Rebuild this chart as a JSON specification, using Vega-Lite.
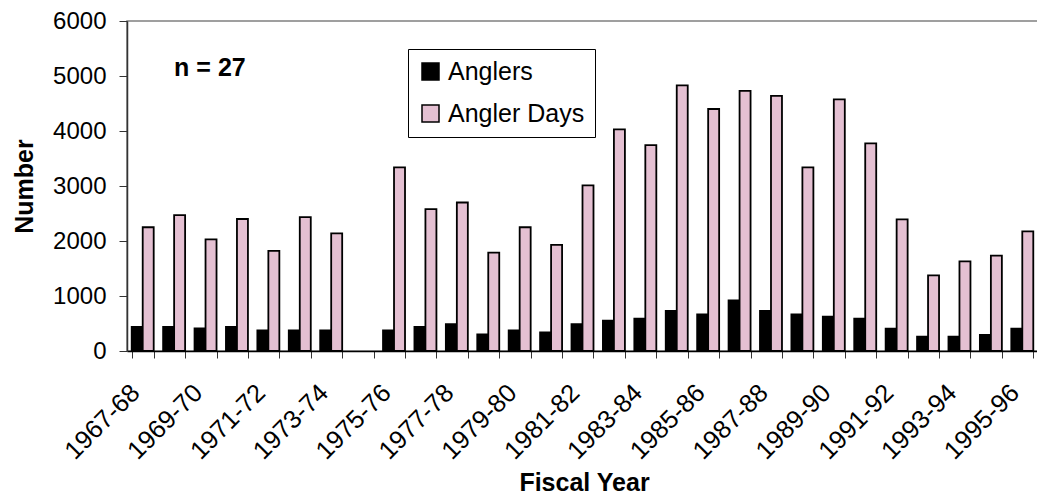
{
  "$schema": "https://vega.github.io/schema/vega-lite/v6.json",
  "autosize": "none",
  "width": 911,
  "height": 330,
  "padding": {"left": 127, "top": 21, "right": 0, "bottom": 144},
  "config": {
    "font": "Liberation Sans",
    "view": {"stroke": "#808080", "strokeWidth": 1.5},
    "background": "white"
  },
  "datasets": {
    "bars": [
      {"year": "1967-68", "series": "Anglers", "value": 440},
      {"year": "1967-68", "series": "Angler Days", "value": 2250},
      {"year": "1968-69", "series": "Anglers", "value": 440},
      {"year": "1968-69", "series": "Angler Days", "value": 2470},
      {"year": "1969-70", "series": "Anglers", "value": 410},
      {"year": "1969-70", "series": "Angler Days", "value": 2030},
      {"year": "1970-71", "series": "Anglers", "value": 440},
      {"year": "1970-71", "series": "Angler Days", "value": 2400},
      {"year": "1971-72", "series": "Anglers", "value": 375},
      {"year": "1971-72", "series": "Angler Days", "value": 1820},
      {"year": "1972-73", "series": "Anglers", "value": 375},
      {"year": "1972-73", "series": "Angler Days", "value": 2435},
      {"year": "1973-74", "series": "Anglers", "value": 375},
      {"year": "1973-74", "series": "Angler Days", "value": 2140},
      {"year": "1975-76", "series": "Anglers", "value": 375},
      {"year": "1975-76", "series": "Angler Days", "value": 3340},
      {"year": "1976-77", "series": "Anglers", "value": 440},
      {"year": "1976-77", "series": "Angler Days", "value": 2580},
      {"year": "1977-78", "series": "Anglers", "value": 490},
      {"year": "1977-78", "series": "Angler Days", "value": 2700},
      {"year": "1978-79", "series": "Anglers", "value": 300},
      {"year": "1978-79", "series": "Angler Days", "value": 1790},
      {"year": "1979-80", "series": "Anglers", "value": 375},
      {"year": "1979-80", "series": "Angler Days", "value": 2250},
      {"year": "1980-81", "series": "Anglers", "value": 340},
      {"year": "1980-81", "series": "Angler Days", "value": 1930},
      {"year": "1981-82", "series": "Anglers", "value": 490},
      {"year": "1981-82", "series": "Angler Days", "value": 3010},
      {"year": "1982-83", "series": "Anglers", "value": 550},
      {"year": "1982-83", "series": "Angler Days", "value": 4030},
      {"year": "1983-84", "series": "Anglers", "value": 590},
      {"year": "1983-84", "series": "Angler Days", "value": 3745},
      {"year": "1984-85", "series": "Anglers", "value": 730},
      {"year": "1984-85", "series": "Angler Days", "value": 4830},
      {"year": "1985-86", "series": "Anglers", "value": 665},
      {"year": "1985-86", "series": "Angler Days", "value": 4400},
      {"year": "1986-87", "series": "Anglers", "value": 920},
      {"year": "1986-87", "series": "Angler Days", "value": 4730},
      {"year": "1987-88", "series": "Anglers", "value": 730},
      {"year": "1987-88", "series": "Angler Days", "value": 4640},
      {"year": "1988-89", "series": "Anglers", "value": 665},
      {"year": "1988-89", "series": "Angler Days", "value": 3340},
      {"year": "1989-90", "series": "Anglers", "value": 625},
      {"year": "1989-90", "series": "Angler Days", "value": 4575},
      {"year": "1990-91", "series": "Anglers", "value": 590},
      {"year": "1990-91", "series": "Angler Days", "value": 3775},
      {"year": "1991-92", "series": "Anglers", "value": 405},
      {"year": "1991-92", "series": "Angler Days", "value": 2395},
      {"year": "1992-93", "series": "Anglers", "value": 260},
      {"year": "1992-93", "series": "Angler Days", "value": 1375},
      {"year": "1993-94", "series": "Anglers", "value": 260},
      {"year": "1993-94", "series": "Angler Days", "value": 1630},
      {"year": "1994-95", "series": "Anglers", "value": 295},
      {"year": "1994-95", "series": "Angler Days", "value": 1735},
      {"year": "1995-96", "series": "Anglers", "value": 405},
      {"year": "1995-96", "series": "Angler Days", "value": 2175}
    ],
    "note": [
      {"label": "n = 27", "year": "1968-69", "value": 5000}
    ]
  },
  "layer": [
    {
      "data": {"name": "bars"},
      "mark": {"type": "bar", "stroke": "black", "strokeWidth": 1.8},
      "encoding": {
        "x": {
          "field": "year",
          "type": "nominal",
          "scale": {
            "domain": ["1967-68","1968-69","1969-70","1970-71","1971-72","1972-73","1973-74","1974-75","1975-76","1976-77","1977-78","1978-79","1979-80","1980-81","1981-82","1982-83","1983-84","1984-85","1985-86","1986-87","1987-88","1988-89","1989-90","1990-91","1991-92","1992-93","1993-94","1994-95","1995-96"],
            "paddingInner": 0.3,
            "paddingOuter": 0.15
          },
          "axis": {
            "title": "Fiscal Year",
            "titleFontSize": 25,
            "titleFontWeight": "bold",
            "titleColor": "black",
            "titleX": 457,
            "titleY": 139,
            "titleAlign": "center",
            "titleBaseline": "alphabetic",
            "labelAngle": -45,
            "labelAlign": "right",
            "labelBaseline": "alphabetic",
            "labelPadding": 36,
            "labelOffset": -2,
            "labelFontSize": 25.5,
            "labelColor": "black",
            "labelExpr": "toNumber(substring(datum.label, 0, 4)) % 2 == 1 ? datum.label : ''",
            "tickBand": "extent",
            "tickSize": 7,
            "tickColor": "#333333",
            "domainColor": "black",
            "domainWidth": 1.5,
            "labelOverlap": false
          }
        },
        "xOffset": {
          "field": "series",
          "type": "nominal",
          "scale": {"domain": ["Anglers", "Angler Days"], "paddingInner": 0, "paddingOuter": 0}
        },
        "y": {
          "field": "value",
          "type": "quantitative",
          "scale": {"domain": [0, 6000], "nice": false},
          "axis": {
            "title": "Number",
            "titleFontSize": 25,
            "titleFontWeight": "bold",
            "titleColor": "black",
            "titleX": -95,
            "titleY": 165,
            "titleAngle": -90,
            "titleAlign": "center",
            "titleBaseline": "alphabetic",
            "values": [0, 1000, 2000, 3000, 4000, 5000, 6000],
            "format": "d",
            "grid": false,
            "labelFontSize": 24,
            "labelColor": "black",
            "labelPadding": 13,
            "tickSize": 8,
            "tickColor": "#333333",
            "domainColor": "#333333",
            "domainWidth": 1.5
          }
        },
        "color": {
          "field": "series",
          "type": "nominal",
          "scale": {"domain": ["Anglers", "Angler Days"], "range": ["#000000", "#e4c0d2"]},
          "legend": {
            "title": null,
            "orient": "none",
            "legendX": 281,
            "legendY": 28,
            "direction": "vertical",
            "strokeColor": "black",
            "fillColor": "white",
            "padding": 10,
            "symbolType": "square",
            "symbolSize": 289,
            "symbolStrokeColor": "black",
            "symbolStrokeWidth": 1.5,
            "labelFontSize": 25,
            "labelColor": "black",
            "labelOffset": 5,
            "rowPadding": 16
          }
        }
      }
    },
    {
      "data": {"name": "note"},
      "mark": {"type": "text", "align": "left", "baseline": "alphabetic", "fontSize": 25, "fontWeight": "bold", "color": "black"},
      "encoding": {
        "x": {"field": "year", "type": "nominal"},
        "y": {"field": "value", "type": "quantitative"},
        "text": {"field": "label"}
      }
    }
  ]
}
